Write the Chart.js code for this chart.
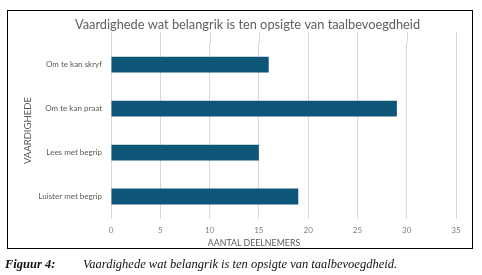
<!DOCTYPE html>
<html>
<head>
<meta charset="utf-8">
<script src="https://cdn.jsdelivr.net/npm/chart.js@4/dist/chart.umd.min.js"></script>
<style>
    body { margin: 0; background: #fff; width: 482px; height: 275px; position: relative; overflow: hidden; }
    #box { position: absolute; left: 7px; top: 10px; width: 464px; height: 237px; border: 1px solid #000; }
    #xtitle { position: absolute; left: 246px; top: 226px; transform: translateX(-50%); font: 8.8px Lato, sans-serif; color: #595959; white-space: nowrap; }
    #caption { position: absolute; left: 5px; top: 257px; font: italic 12.5px "Liberation Serif", serif; color: #111; white-space: nowrap; }
    #caption b { display: inline-block; width: 78px; }
</style>
</head>
<body>
<div id="box">
    <canvas id="chart" width="464" height="237"></canvas>
    <div id="xtitle">AANTAL DEELNEMERS</div>
</div>
<div id="caption"><b>Figuur 4:</b>Vaardighede wat belangrik is ten opsigte van taalbevoegdheid.</div>
<script>
// 数据
const categories = ['Om te kan skryf', 'Om te kan praat', 'Lees met begrip', 'Luister met begrip'];
const deelnemers = [16, 29, 15, 19];
const xTicks = [0, 5, 10, 15, 20, 25, 30, 35];

// 网格线向上延伸一点 (跟原图一样)
const gridExtend = {
    id: 'gridExtend',
    beforeDatasetsDraw(chart) {
        const ctx = chart.ctx;
        const x = chart.scales.x;
        const top = chart.chartArea.top;
        ctx.save();
        ctx.strokeStyle = '#d9d9d9';
        ctx.lineWidth = 1;
        xTicks.forEach(v => {
            const px = Math.round(x.getPixelForValue(v)) + 0.5;
            ctx.beginPath();
            ctx.moveTo(px, top - 10.5);
            ctx.lineTo(px, top);
            ctx.stroke();
        });
        ctx.restore();
    }
};

new Chart(document.getElementById('chart'), {
    type: 'bar',
    data: {
        labels: categories,
        datasets: [{
            label: 'Aantal deelnemers',
            data: deelnemers,
            backgroundColor: '#0d5678',
            borderWidth: 0,
            categoryPercentage: 1,
            barPercentage: 0.36
        }]
    },
    plugins: [gridExtend],
    options: {
        indexAxis: 'y',
        responsive: false,
        animation: false,
        // 左边留白让标题居中位置跟原图一样
        layout: { padding: { top: 0, right: 16, bottom: 0, left: 31 } },
        plugins: {
            legend: { display: false },
            tooltip: { enabled: false },
            title: {
                display: true,
                text: 'Vaardighede wat belangrik is ten opsigte van taalbevoegdheid',
                color: '#5f5f5f',
                font: { family: 'Lato', size: 12.8, weight: 'normal' },
                padding: { top: 6.3, bottom: 10 }
            }
        },
        scales: {
            x: {
                min: 0,
                max: 35,
                afterBuildTicks: s => { s.ticks = xTicks.map(v => ({ value: v })); },
                grid: { color: '#d9d9d9', drawTicks: false },
                border: { display: false },
                ticks: { color: '#7f7f7f', font: { family: 'Lato', size: 8 }, padding: 7 },
                afterFit: s => { s.height = 29.5; }
            },
            y: {
                grid: { display: false, drawTicks: false },
                border: { display: false },
                ticks: { color: '#595959', font: { family: 'Lato', size: 8 }, padding: 9 },
                title: {
                    display: true,
                    text: 'VAARDIGHEDE',
                    color: '#595959',
                    font: { family: 'Lato', size: 9.5 },
                    padding: { top: -16.7, bottom: 0 }
                },
                afterFit: s => { s.width = 72; }
            }
        }
    }
});
</script>
</body>
</html>
